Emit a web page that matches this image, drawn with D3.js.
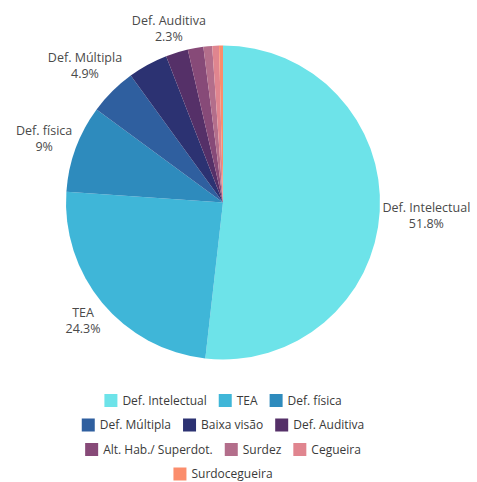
<!DOCTYPE html>
<html lang="pt">
<head>
    <meta charset="UTF-8">
    <title>Deficiências</title>
    <script src="https://d3js.org/d3.v7.min.js"></script>
    <style>
        body { margin: 0; background: white; }
        svg { display: block; font-family: "Open Sans", sans-serif; }
        .lbl { fill: #4a4a4a; font-size: 12.5px; }
        .leg { fill: #3a3a3a; font-size: 12px; }
    </style>
</head>
<body>
<svg id="canvas" width="477" height="482"></svg>
<script>
    // categorias e percentuais
    let categories = ["Def. Intelectual", "TEA", "Def. física", "Def. Múltipla", "Baixa visão",
        "Def. Auditiva", "Alt. Hab./ Superdot.", "Surdez", "Cegueira", "Surdocegueira"];
    let values = [51.8, 24.3, 9, 4.9, 4.1, 2.3, 1.6, 0.9, 0.7, 0.4];
    let valueLabels = ["51.8%", "24.3%", "9%", "4.9%", "", "2.3%", "", "", "", ""];
    let colors = ["#6de3e9", "#3fb6d8", "#2e8bbd", "#2f5f9f", "#2c3272",
        "#553068", "#874a78", "#b36e8b", "#e0858f", "#fb8d6c"];

    let svg = d3.select("svg");
    let cx = 223, cy = 202.5, radius = 157;

    let data = categories.map(function (c, i) {
        return {name: c, value: values[i], label: valueLabels[i], color: colors[i]};
    });

    let pie = d3.pie().sort(null).value(function (d) { return d.value; });
    let arc = d3.arc().innerRadius(0).outerRadius(radius);
    let arcs = pie(data);

    let g = svg.append("g").attr("transform", "translate(" + cx + "," + cy + ")");
    g.selectAll("path")
        .data(arcs)
        .enter()
        .append("path")
        .attr("d", arc)
        .attr("fill", function (d) { return d.data.color; });

    // rotulos fora da pizza
    let lineH = 16;
    arcs.filter(function (d) { return d.data.label !== ""; }).forEach(function (d) {
        let mid = (d.startAngle + d.endAngle) / 2;
        let dx = Math.sin(mid), dy = -Math.cos(mid);
        let t = g.append("text").attr("class", "lbl").attr("text-anchor", "middle");
        t.append("tspan").attr("x", 0).attr("y", -lineH / 2).attr("dy", "0.35em").text(d.data.name);
        t.append("tspan").attr("x", 0).attr("y", lineH / 2).attr("dy", "0.35em").text(d.data.label);
        let w = t.node().getBBox().width;
        let h = 30;
        let ext = Math.abs(dx) * w / 2 + Math.abs(dy) * h / 2;
        let r = radius + 2 + ext;
        t.attr("transform", "translate(" + (dx * r) + "," + (dy * r + 2) + ")");
    });

    // legenda centralizada, com quebra de linha
    let legend = svg.append("g");
    let sw = 13, swGap = 5, itemGap = 12, maxW = 300, rowH = 24.5, legY = 400.5;
    let items = data.map(function (d) {
        let t = legend.append("text").attr("class", "leg").text(d.name);
        let w = t.node().getComputedTextLength();
        t.remove();
        return {d: d, w: sw + swGap + w};
    });
    let rows = [[]], rowW = [0];
    items.forEach(function (it) {
        let k = rows.length - 1;
        let add = rows[k].length ? itemGap + it.w : it.w;
        if (rows[k].length && rowW[k] + add > maxW) {
            rows.push([it]); rowW.push(it.w);
        } else {
            rows[k].push(it); rowW[k] += add;
        }
    });
    rows.forEach(function (row, ri) {
        let x = cx - rowW[ri] / 2;
        let y = legY + ri * rowH;
        row.forEach(function (it) {
            legend.append("rect").attr("x", x).attr("y", y - sw / 2)
                .attr("width", sw).attr("height", sw).attr("fill", it.d.color);
            legend.append("text").attr("class", "leg")
                .attr("x", x + sw + swGap).attr("y", y).attr("dy", "0.35em")
                .text(it.d.name);
            x += it.w + itemGap;
        });
    });
</script>
</body>
</html>
